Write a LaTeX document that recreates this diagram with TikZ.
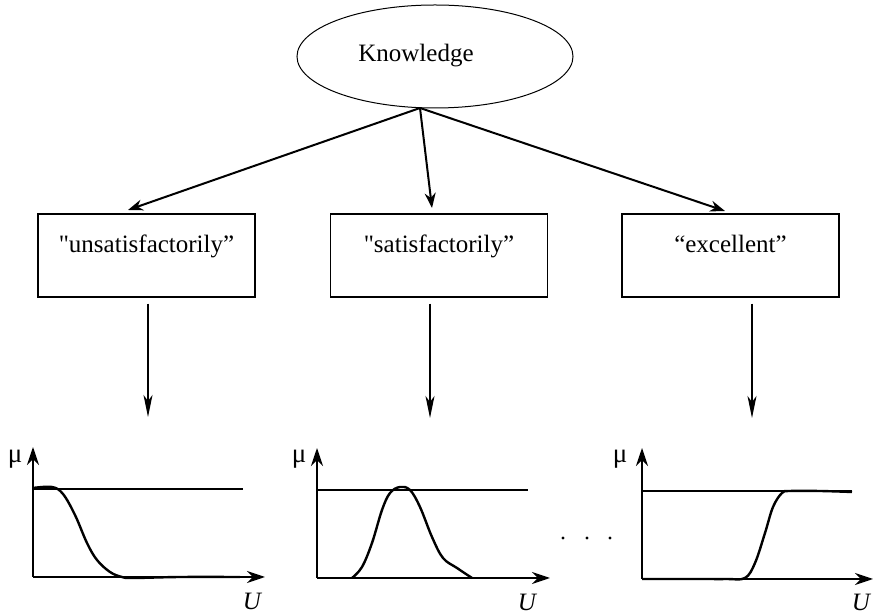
\documentclass[tikz,border=0pt]{standalone}
\usepackage{fontspec}
\setmainfont{Liberation Serif}[Ligatures=TeXOff]
\usetikzlibrary{arrows.meta,shapes.geometric}
\tikzset{
  txt/.style={font=\fontsize{12.5}{15}\selectfont, inner sep=0pt},
  catbox/.style={draw, line width=0.75pt, minimum width=108.5pt, inner xsep=0pt, inner ysep=0pt,
     text height=19.5pt, text depth=22pt, font=\fontsize{12.5}{15}\selectfont},
  toparrow/.style={line width=1pt, -{Stealth[length=7.5pt,width=5.5pt]}},
  downarrow/.style={line width=0.7pt, -{Stealth[length=11pt,width=4.5pt,inset=3pt]}},
  axis/.style={line width=0.9pt, -{Stealth[length=9pt,width=6pt]}},
  ref/.style={line width=0.9pt},
  mf/.style={line width=1.2pt, smooth, tension=0.6},
  mu/.style={font=\fontsize{13.5}{15}\selectfont, inner sep=0pt},
  ulab/.style={font=\fontsize{12.5}{15}\selectfont\itshape, inner sep=0pt, anchor=base},
}
\begin{document}
\begin{tikzpicture}[x=0.5pt,y=-0.5pt]
\useasboundingbox (0,0) rectangle (874,614);
% top
\node[draw, ellipse, line width=0.5pt, minimum width=138pt, minimum height=51.5pt, inner sep=0pt] (know) at (435,56.5) {};
\node[txt, anchor=base] (ktext) at (416,62) {Knowledge};
\coordinate (kb) at (420,108);
% boxes
\node[catbox] (b1) at (146.5,255.5) {"unsatisfactorily”};
\node[catbox] (b2) at (439,255.5) {"satisfactorily”};
\node[catbox] (b3) at (730.5,255.5) {“excellent”};
\coordinate (t1) at (128,210);
\coordinate (t2) at (432,208);
\coordinate (t3) at (725,211);
\draw[toparrow] (kb) -- (t1);
\draw[toparrow] (kb) -- (t2);
\draw[toparrow] (kb) -- (t3);
% down arrows
\coordinate (d1) at (148,417);
\coordinate (d2) at (430,418);
\coordinate (d3) at (752,418);
\draw[downarrow] (b1.south -| d1) ++(0,6) -- (d1);
\draw[downarrow] (b2.south -| d2) ++(0,6) -- (d2);
\draw[downarrow] (b3.south -| d3) ++(0,6) -- (d3);
% plot 1
\draw[axis] (33,577) -- (33,447);
\draw[axis] (33,577) -- (265,577);
\draw[ref] (33,489) -- (243,489);
\draw[mf] plot coordinates {(33,488) (52,487) (63,494) (75,515) (87,543) (97,560) (110,572) (122,577) (133,578) (180,577) (240,577)};
\node[mu] (mu1) at (15,459) {μ};
\node[ulab] (u1) at (252,610) {U};
% plot 2
\draw[axis] (317,578) -- (317,448);
\draw[axis] (317,578) -- (550,578);
\draw[ref] (317,490) -- (528,490);
\draw[mf] plot coordinates {(352,578) (362,567) (372,543) (382,510) (390,493) (400,487) (410,490) (420,507) (432,537) (443,558) (457,568) (472,578)};
\node[mu] (mu2) at (299,459) {μ};
\node[ulab] (u2) at (527,611) {U};
% dots
\fill (563,538) circle (1.6);
\fill (587,538) circle (1.6);
\fill (610,538) circle (1.6);
% plot 3
\draw[axis] (642,579) -- (642,448);
\draw[axis] (642,579) -- (873,579);
\draw[ref] (642,491) -- (852,491);
\draw[mf] plot coordinates {(642,579) (700,579) (727,579) (745,578) (755,563) (765,533) (773,507) (782,493) (790,491) (820,491) (852,492)};
\node[mu] (mu3) at (620,459) {μ};
\node[ulab] (u3) at (861,611) {U};
\end{tikzpicture}
\end{document}
